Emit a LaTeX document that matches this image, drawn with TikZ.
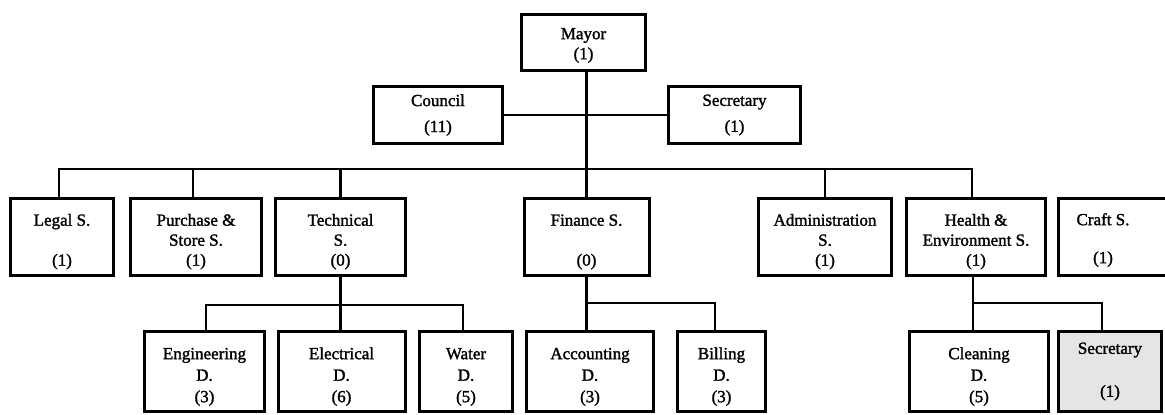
\documentclass[tikz,border=0pt]{standalone}
\usepackage{fontspec}
\setmainfont{Liberation Serif}
\newfontfamily\scanfont{Liberation Serif}[FakeBold=1.6]
\newcommand\lift[1]{\rule{0pt}{#1}}
\begin{document}
\begin{tikzpicture}[x=1pt,y=-1pt,
  orgbox/.style={draw=black, line width=3pt, inner sep=0pt, align=center,
    font=\scanfont\fontsize{17}{20}\selectfont},
  lvltop/.style={orgbox, minimum height=56pt},
  lvlone/.style={orgbox, minimum height=57pt, font=\scanfont\fontsize{17}{26}\selectfont},
  lvltwo/.style={orgbox, minimum height=77pt},
  lvlthree/.style={orgbox, minimum height=80pt, font=\scanfont\fontsize{17}{21.5}\selectfont},
  plaintext/.style={inner sep=0pt, align=center, font=\scanfont\fontsize{17}{19}\selectfont},
  conn/.style={draw=black, line width=2.3pt}]
\useasboundingbox (0,0) rectangle (1165,415);
\clip (0,0) rectangle (1165,415);
% top
\node[lvltop, minimum width=124pt] (mayor) at (583.5,42.5) {\lift{17pt}Mayor\\(1)};
\node[lvlone, minimum width=129pt] (council) at (438,115) {Council\\(11)};
\node[lvlone, minimum width=132pt] (secretary) at (734.5,115) {Secretary\\(1)};
% level 2
\node[lvltwo, minimum width=103pt] (legal) at (62,237) {\lift{21pt}Legal S.\\\mbox{}\\(1)};
\node[lvltwo, minimum width=131pt] (purchase) at (196,237) {\lift{21pt}Purchase \&\\Store S.\\(1)};
\node[lvltwo, minimum width=130pt] (technical) at (340.5,237) {\lift{21pt}Technical\\S.\\(0)};
\node[lvltwo, minimum width=125pt] (finance) at (586.5,237) {\lift{21pt}Finance S.\\\mbox{}\\(0)};
\node[lvltwo, minimum width=133pt] (admin) at (825,237) {\lift{21pt}Administration\\S.\\(1)};
\node[lvltwo, minimum width=139pt] (health) at (976,237) {\lift{21pt}Health \&\\Environment S.\\(1)};
\node[lvltwo, minimum width=110pt] (craft) at (1113.5,237) {};
\node[plaintext] (craftlabel) at (1103,240) {Craft S.\\\mbox{}\\(1)};
% level 3
\node[lvlthree, minimum width=120pt] (engineering) at (204.5,371.5) {\lift{22pt}Engineering\\D.\\(3)};
\node[lvlthree, minimum width=127pt] (electrical) at (341.5,371.5) {\lift{22pt}Electrical\\D.\\(6)};
\node[lvlthree, minimum width=93pt] (water) at (466,371.5) {\lift{22pt}Water\\D.\\(5)};
\node[lvlthree, minimum width=127pt] (accounting) at (590,371.5) {\lift{22pt}Accounting\\D.\\(3)};
\node[lvlthree, minimum width=88pt] (billing) at (721.5,371.5) {\lift{22pt}Billing\\D.\\(3)};
\node[lvlthree, minimum width=139pt] (cleaning) at (979,371.5) {\lift{22pt}Cleaning\\D.\\(5)};
\node[lvlthree, minimum width=103pt, fill=black!10] (secretarytwo) at (1110,371.5) {Secretary\\\mbox{}\\(1)};
% bus coordinates
\coordinate (bus) at (0,169);
\coordinate (tbus) at (0,305);
\coordinate (fbus) at (0,303);
\coordinate (hbus) at (0,303);
% connectors
\draw[conn] (council.east) -- (secretary.west);
\draw[conn] (mayor.south -| finance.north) -- (finance.north);
\draw[conn] ([xshift=-3pt]legal.north) -- ([xshift=-3pt]legal.north |- bus) -| ([xshift=-4pt]health.north);
\draw[conn] ([xshift=-3pt]purchase.north) -- ([xshift=-3pt]purchase.north |- bus);
\draw[conn] (technical.north) -- (technical.north |- bus);
\draw[conn] (admin.north) -- (admin.north |- bus);
% technical
\draw[conn] (technical.south) -- (technical.south |- electrical.north);
\draw[conn] ([xshift=1.5pt]engineering.north) -- ([xshift=1.5pt]engineering.north |- tbus) -| ([xshift=-3pt]water.north);
% finance
\draw[conn] (finance.south) -- (finance.south |- accounting.north);
\draw[conn] (finance.south |- fbus) -| ([xshift=-6.5pt]billing.north);
% health
\draw[conn] ([xshift=-3pt]health.south) -- ([xshift=-3pt]health.south |- cleaning.north);
\draw[conn] ([xshift=-3pt]health.south |- hbus) -| ([xshift=-8pt]secretarytwo.north);
\end{tikzpicture}
\end{document}
